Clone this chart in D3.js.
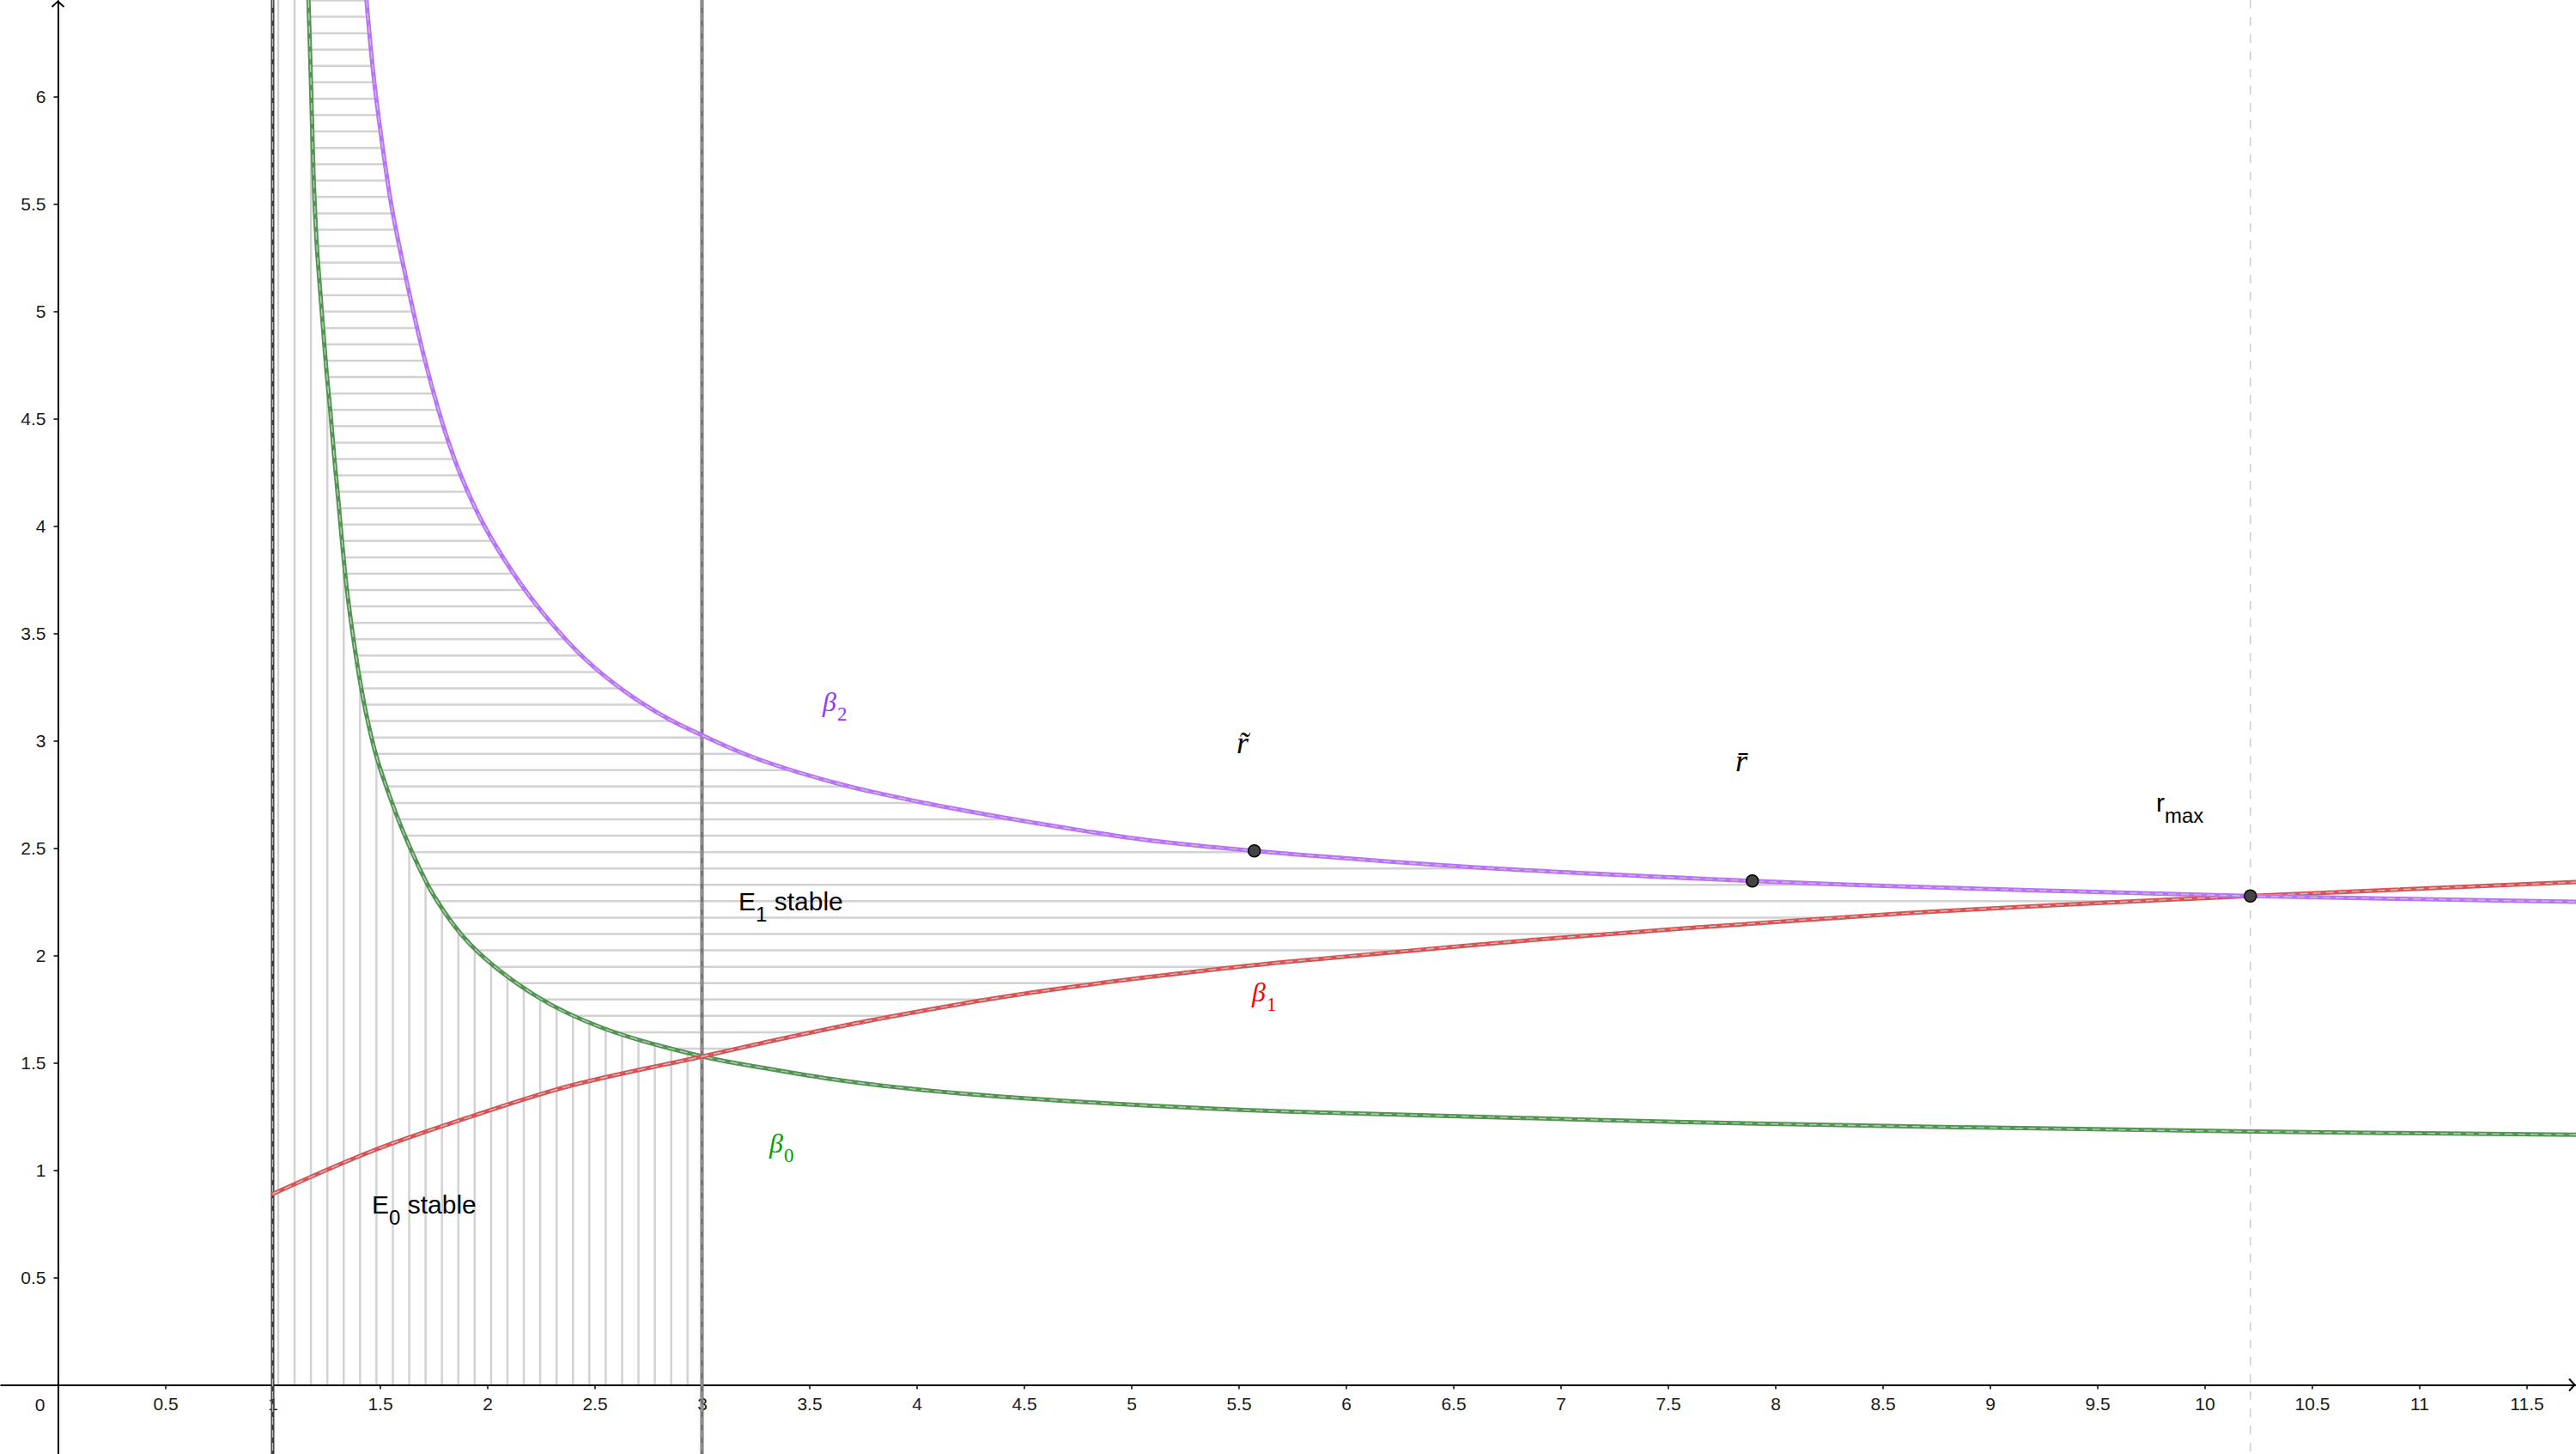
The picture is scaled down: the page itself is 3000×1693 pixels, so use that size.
<!DOCTYPE html>
<html><head><meta charset="utf-8">
<script src="https://cdn.jsdelivr.net/npm/d3@7"></script>
<style>body{margin:0;background:#fff}svg{display:block}</style>
</head><body>
<script>
// ---------- data ----------
const xTicks = [0.5,1,1.5,2,2.5,3,3.5,4,4.5,5,5.5,6,6.5,7,7.5,8,8.5,9,9.5,10,10.5,11,11.5];
const yTicks = [0.5,1,1.5,2,2.5,3,3.5,4,4.5,5,5.5,6];

// beta0 (green) : [r, value]
const beta0 = [[1.167,6.45],[1.179,6.05],[1.190,5.65],[1.205,5.32],[1.225,5.05],[1.251,4.72],[1.270,4.52],
  [1.287,4.32],[1.306,4.12],[1.324,3.92],[1.344,3.72],[1.370,3.52],[1.400,3.32],[1.437,3.12],[1.484,2.925],
  [1.544,2.745],[1.611,2.57],[1.75,2.28],[1.922,2.05],[2.229,1.81],[2.535,1.663],[3.0,1.53],[3.289,1.476],
  [3.647,1.418],[4.004,1.376],[4.361,1.345],[4.719,1.321],[5.076,1.301],[5.434,1.284],[5.734,1.273],
  [6.235,1.259],[7.537,1.225],[8.840,1.200],[10.217,1.180],[11.738,1.165]];
// beta1 (red)
const beta1 = [[1.0,0.889],[1.463,1.089],[1.922,1.249],[2.382,1.392],[3.0,1.529],[3.289,1.594],[3.647,1.670],
  [4.004,1.738],[4.361,1.800],[4.719,1.853],[5.076,1.899],[5.434,1.940],[5.734,1.971],[6.968,2.080],
  [8.536,2.192],[9.337,2.236],[10.213,2.277],[11.739,2.342]];
// beta2 (purple)
const beta2 = [[1.437,6.45],[1.470,6.10],[1.509,5.79],[1.554,5.49],[1.616,5.18],[1.700,4.81],[1.797,4.46],
  [1.877,4.235],[1.984,4.005],[2.118,3.785],[2.251,3.605],[2.451,3.385],[2.651,3.222],[2.851,3.098],[3.0,3.026],
  [3.132,2.966],[3.288,2.905],[3.647,2.797],[4.004,2.717],[4.361,2.650],[4.719,2.590],[5.076,2.537],
  [5.573,2.487],[6.559,2.413],[7.893,2.347],[8.536,2.323],[9.337,2.300],[10.213,2.277],[11.739,2.250]];

const boundaryR = [1, 3];          // vertical boundary lines
const rMax = 10.213;               // dashed guide
const markers = [[5.573,2.487],[7.893,2.347],[10.213,2.277]];

// ---------- setup ----------
const W = 3000, H = 1693;
const x = d3.scaleLinear().domain([-0.27, 11.73]).range([0, W]);
const y = d3.scaleLinear().domain([-0.322, 6.45]).range([H, 0]);
const svg = d3.select("body").append("svg").attr("width", W).attr("height", H)
  .style("font-family", "'Liberation Sans', Arial, sans-serif");

const lineGen = d3.line().x(d => x(d[0])).y(d => y(d[1])).curve(d3.curveCatmullRom.alpha(0.5));
const defs = svg.append("defs");

// region E1 (horizontal hatch)
const upper = beta2.filter(d => d[0] <= rMax);
const lowRed = beta1.filter(d => d[0] >= 3 && d[0] <= rMax).slice().reverse();
const lowGreen = beta0.filter(d => d[0] <= 3).slice().reverse();
const pathH = lineGen(upper) + lineGen(lowRed).replace(/^M/, "L") + lineGen(lowGreen).replace(/^M/, "L") + "Z";
defs.append("clipPath").attr("id", "clipH").append("path").attr("d", pathH);

// region E0 (vertical hatch)
const g3 = beta0.filter(d => d[0] <= 3);
const pathV = `M${x(1)},${y(0)}L${x(1)},${y(6.45)}` + lineGen(g3).replace(/^M/, "L") + `L${x(3)},${y(0)}Z`;
defs.append("clipPath").attr("id", "clipV").append("path").attr("d", pathV);

const hatchGap = 19.07, hatchCol = "#d2d2d2", hatchW = 2.5;
const hg = svg.append("g").attr("clip-path", "url(#clipH)");
for (let k = 0; ; k++) {
  const py = y(0) - (k + 0.53) * hatchGap;
  if (py < 0) break;
  hg.append("line").attr("x1", 0).attr("x2", W).attr("y1", py).attr("y2", py)
    .attr("stroke", hatchCol).attr("stroke-width", hatchW);
}
const vg = svg.append("g").attr("clip-path", "url(#clipV)");
for (let k = 0; ; k++) {
  const px = x(1) + 6.5 + k * hatchGap;
  if (px > x(3)) break;
  vg.append("line").attr("x1", px).attr("x2", px).attr("y1", 0).attr("y2", H)
    .attr("stroke", hatchCol).attr("stroke-width", hatchW);
}

// r_max dashed guide
svg.append("line").attr("x1", x(rMax)).attr("x2", x(rMax)).attr("y1", 0).attr("y2", H)
  .attr("stroke", "#cfcfcf").attr("stroke-width", 1.6).attr("stroke-dasharray", "10,10");

// axes
const xAxis = d3.axisBottom(x).tickValues(xTicks).tickSizeInner(5).tickSizeOuter(0).tickPadding(10)
  .tickFormat(d3.format("~g"));
const gx = svg.append("g").attr("transform", `translate(0,${y(0)})`).call(xAxis);
const yAxis = d3.axisLeft(y).tickValues(yTicks).tickSizeInner(5).tickSizeOuter(0).tickPadding(9)
  .tickFormat(d3.format("~g"));
const gy = svg.append("g").attr("transform", `translate(${x(0)},0)`).call(yAxis);
[gx, gy].forEach(g => {
  g.select(".domain").attr("stroke", "#000").attr("stroke-width", 2);
  g.selectAll(".tick line").attr("stroke", "#000").attr("stroke-width", 1.5);
  g.selectAll(".tick text").attr("font-size", 21).attr("fill", "#1a1a1a")
    .attr("font-family", "'Liberation Sans', Arial, sans-serif");
});
svg.append("text").attr("x", x(0) - 21).attr("y", y(0) + 30).attr("text-anchor", "middle")
  .attr("font-size", 21).attr("fill", "#1a1a1a").text("0");
// arrows
svg.append("path").attr("d", `M${x(0)-7},${8}L${x(0)},${1.5}L${x(0)+7},${8}`)
  .attr("fill", "none").attr("stroke", "#000").attr("stroke-width", 2);
svg.append("path").attr("d", `M${W-8},${y(0)-7}L${W-1.5},${y(0)}L${W-8},${y(0)+7}`)
  .attr("fill", "none").attr("stroke", "#000").attr("stroke-width", 2);

// vertical boundary lines
const bStyle = [{c: "#3d3d3d", o: "#bdbdbd"}, {c: "#767676", o: "#a8a8a8"}];
boundaryR.forEach((r, i) => {
  svg.append("line").attr("x1", x(r)).attr("x2", x(r)).attr("y1", 0).attr("y2", H)
    .attr("stroke", bStyle[i].c).attr("stroke-width", 4);
  svg.append("line").attr("x1", x(r)).attr("x2", x(r)).attr("y1", 0).attr("y2", H)
    .attr("stroke", bStyle[i].o).attr("stroke-width", 1.3).attr("stroke-dasharray", "9,6");
});

// curves
const curves = [{d: beta0, c: "#4f964f"}, {d: beta1, c: "#dc5252"}, {d: beta2, c: "#bc70ff"}];
curves.forEach(cv => {
  svg.append("path").attr("d", lineGen(cv.d)).attr("fill", "none").attr("stroke", cv.c)
    .attr("stroke-width", 5).attr("stroke-linecap", "round");
  svg.append("path").attr("d", lineGen(cv.d)).attr("fill", "none").attr("stroke", "#c4c4c4")
    .attr("stroke-width", 1.4).attr("stroke-dasharray", "9,6");
});

// markers
svg.selectAll("circle.m").data(markers).enter().append("circle")
  .attr("cx", d => x(d[0])).attr("cy", d => y(d[1])).attr("r", 7)
  .attr("fill", "#444").attr("stroke", "#000").attr("stroke-width", 1.6);

// labels
function subLabel(rx, vy, main, sub, rest) {
  const t = svg.append("text").attr("x", x(rx)).attr("y", y(vy)).attr("font-size", 30).attr("fill", "#000");
  t.append("tspan").text(main);
  t.append("tspan").attr("font-size", 24).attr("dy", 13).text(sub);
  if (rest) t.append("tspan").attr("dy", -13).text(rest);
}
subLabel(1.462, 0.798, "E", "0", " stable");
subLabel(3.17, 2.21, "E", "1", " stable");
subLabel(9.774, 2.67, "r", "max", null);

function greek(rx, vy, sub, col) {
  const t = svg.append("text").attr("x", x(rx)).attr("y", y(vy)).attr("fill", col)
    .attr("font-family", "'Liberation Serif', 'DejaVu Serif', serif").attr("font-size", 32);
  t.append("tspan").attr("font-style", "italic").text("β");
  t.append("tspan").attr("font-size", 23).attr("dy", 11).attr("dx", 1).text(sub);
}
greek(3.562, 3.138, "2", "#9933ff");
greek(5.562, 1.786, "1", "#ff0000");
greek(3.314, 1.082, "0", "#00a000");

function accent(rx, vy, ch) {
  svg.append("text").attr("x", x(rx)).attr("y", y(vy)).attr("font-size", 36).attr("fill", "#000")
    .attr("font-family", "'Liberation Serif', 'DejaVu Serif', serif").attr("font-style", "italic")
    .text("r" + ch);
}
accent(5.49, 2.942, "\u0303");
accent(7.814, 2.858, "\u0304");
</script>
</body></html>
